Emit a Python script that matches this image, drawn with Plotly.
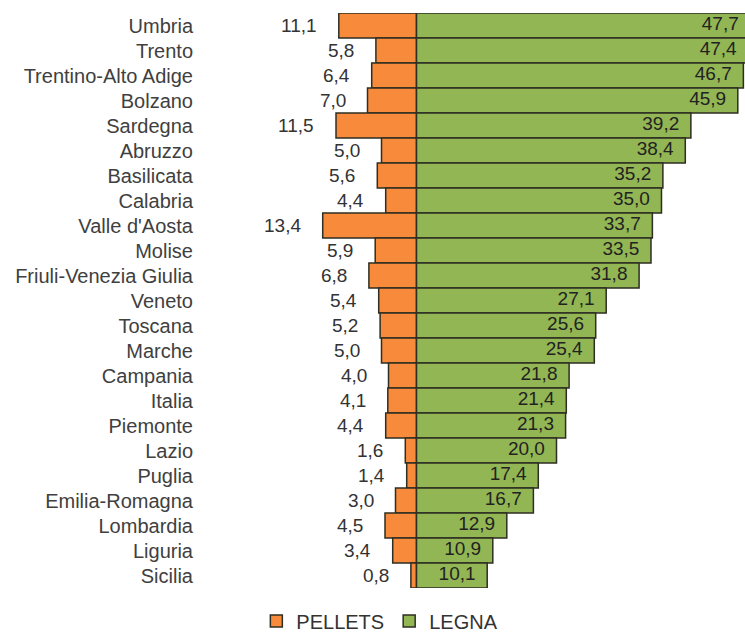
import plotly.graph_objects as go

regions = ["Umbria", "Trento", "Trentino-Alto Adige", "Bolzano", "Sardegna", "Abruzzo",
           "Basilicata", "Calabria", "Valle d'Aosta", "Molise", "Friuli-Venezia Giulia",
           "Veneto", "Toscana", "Marche", "Campania", "Italia", "Piemonte", "Lazio",
           "Puglia", "Emilia-Romagna", "Lombardia", "Liguria", "Sicilia"]
pellets = [11.1, 5.8, 6.4, 7.0, 11.5, 5.0, 5.6, 4.4, 13.4, 5.9, 6.8, 5.4, 5.2, 5.0,
           4.0, 4.1, 4.4, 1.6, 1.4, 3.0, 4.5, 3.4, 0.8]
legna = [47.7, 47.4, 46.7, 45.9, 39.2, 38.4, 35.2, 35.0, 33.7, 33.5, 31.8, 27.1, 25.6,
         25.4, 21.8, 21.4, 21.3, 20.0, 17.4, 16.7, 12.9, 10.9, 10.1]


def fmt(v):
    return f"{v:.1f}".replace(".", ",")


FONT = "Liberation Sans, Arial, sans-serif"
ORANGE = "#F88A3B"
GREEN = "#92B653"
EDGE = "#2E2E22"

fig = go.Figure()
fig.add_trace(go.Bar(
    name="PELLETS", y=regions, x=[-v for v in pellets], orientation="h",
    marker=dict(color=ORANGE, line=dict(color=EDGE, width=1.5)),
    hoverinfo="skip",
))
fig.add_trace(go.Bar(
    name="LEGNA", y=regions, x=legna, orientation="h",
    marker=dict(color=GREEN, line=dict(color=EDGE, width=1.5)),
    hoverinfo="skip",
))

# value labels for LEGNA, right-aligned just inside the bar end
# (an invisible marker at the bar end keeps the label a little away from it)
fig.add_trace(go.Scatter(
    x=legna, y=regions, mode="markers+text", text=[fmt(v) for v in legna],
    textposition="middle left",
    textfont=dict(family=FONT, size=19, color="#222222"),
    marker=dict(size=17, opacity=0, color=GREEN),
    showlegend=False, hoverinfo="skip", cliponaxis=True,
))

annotations = []
for r, p in zip(regions, pellets):
    annotations.append(dict(
        x=-p, y=r, xref="x", yref="y", text=fmt(p), showarrow=False,
        xanchor="right", yanchor="middle", xshift=-20,
        font=dict(family=FONT, size=19, color="#333333"),
    ))

fig.update_layout(
    width=745, height=636, autosize=False,
    margin=dict(l=200, r=0, t=13, b=48, autoexpand=False),
    paper_bgcolor="white", plot_bgcolor="white",
    barmode="overlay", bargap=0,
    showlegend=True,
    legend=dict(orientation="h", x=0.33, xanchor="center", y=-0.0574, yanchor="middle",
                font=dict(family=FONT, size=20, color="#333333"),
                itemwidth=30, traceorder="normal"),
    xaxis=dict(range=[-30.93, 46.93], showgrid=False, zeroline=False,
               showticklabels=False, ticks="", showline=False, fixedrange=True,
               automargin=False),
    yaxis=dict(range=[len(regions) - 0.5, -0.5], showgrid=False, zeroline=False,
               showline=False, ticks="", ticklabelstandoff=6, automargin=False,
               fixedrange=True,
               tickfont=dict(family=FONT, size=20, color="#404040")),
    annotations=annotations,
)

fig.write_html(
    "out.html",
    config={"displayModeBar": False, "staticPlot": True},
    post_script="document.body.style.margin='0';document.body.style.overflow='hidden';",
)
